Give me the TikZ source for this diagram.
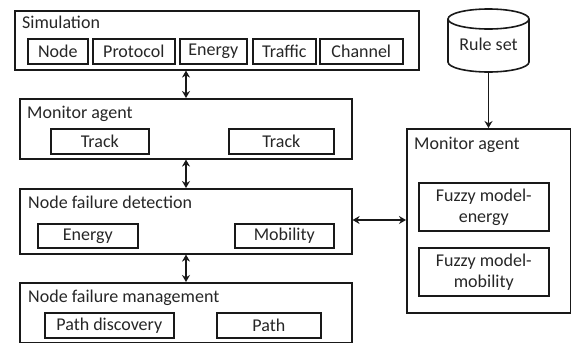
\documentclass[tikz,border=0pt]{standalone}
\usepackage{fontspec}
\setmainfont{Carlito}
\usetikzlibrary{arrows.meta}
\begin{document}
\begin{tikzpicture}[x=1pt,y=1pt,
  outer/.style={draw=black!90, line width=1.6pt, anchor=north west, inner sep=0pt},
  inner/.style={draw=black!90, line width=1.6pt, anchor=north west, inner sep=0pt, font=\fontsize{18}{21}\selectfont, text=black!85},
  title/.style={anchor=west, inner sep=0pt, font=\fontsize{18}{21}\selectfont, text=black!85},
  arr/.style={{Stealth[length=7pt,width=8pt]}-{Stealth[length=7pt,width=8pt]}, line width=1.7pt, draw=black!90},
  sarr/.style={-{Stealth[length=7pt,width=8pt]}, line width=1.7pt, draw=black!90}]
\useasboundingbox (0,0) rectangle (571,-343);
% Simulation
\node[outer, minimum width=404pt, minimum height=59pt] (sim) at (14,-10) {};
\node[title] (simt) at (22,-22) {Simulation};
\node[inner, minimum width=60pt, minimum height=25pt] (s1) at (27,-38) {Node};
\node[inner, minimum width=82pt, minimum height=25pt] (s2) at (92,-38) {Protocol};
\node[inner, minimum width=67pt, minimum height=25pt] (s3) at (179,-38) {Energy};
\node[inner, minimum width=63pt, minimum height=25pt] (s4) at (252,-38) {Traffic};
\node[inner, minimum width=83pt, minimum height=25pt] (s5) at (319,-38) {Channel};
% Monitor agent left
\node[outer, minimum width=332pt, minimum height=60pt] (mon) at (19,-98) {};
\node[title] (mont) at (27,-114) {Monitor agent};
\node[inner, minimum width=98pt, minimum height=25pt] (t1) at (50,-128) {Track};
\node[inner, minimum width=105pt, minimum height=25pt] (t2) at (228,-128) {Track};
% Node failure detection
\node[outer, minimum width=332pt, minimum height=65pt] (nfd) at (19,-188) {};
\node[title] (nfdt) at (28,-202) {Node failure detection};
\node[inner, minimum width=100pt, minimum height=24pt] (d1) at (37,-223) {Energy};
\node[inner, minimum width=99pt, minimum height=24pt] (d2) at (234,-223) {Mobility};
% Node failure management
\node[outer, minimum width=332pt, minimum height=60pt] (nfm) at (19,-282) {};
\node[title] (nfmt) at (28,-298) {Node failure management};
\node[inner, minimum width=129pt, minimum height=25pt] (m1) at (44,-312) {Path discovery};
\node[inner, minimum width=104pt, minimum height=25pt] (m2) at (216,-312) {Path};
% Right monitor agent
\node[outer, minimum width=164pt, minimum height=184pt] (rmon) at (406,-128) {};
\node[title] (rmont) at (414,-145) {Monitor agent};
\node[inner, minimum width=130pt, minimum height=48pt, align=center] (f1) at (418,-182) {Fuzzy model-\\energy};
\node[inner, minimum width=130pt, minimum height=48pt, align=center] (f2) at (418,-247) {Fuzzy model-\\mobility};
% Rule set cylinder
\draw[draw=black!90, line width=1.6pt] (448,-19) arc[start angle=180, end angle=540, x radius=40.5, y radius=10]
  -- (448,-19) -- (448,-62) arc[start angle=180, end angle=360, x radius=40.5, y radius=10] -- (529,-19);
\node[title, anchor=center] (rule) at (488.5,-44) {Rule set};
\coordinate (rulebot) at (488.5,-72);
% Arrows
\draw[arr] (sim.south -| 186,0) -- (mon.north -| 186,0);
\draw[arr] (mon.south -| 186,0) -- (nfd.north -| 186,0);
\draw[arr] (nfd.south -| 186,0) -- (nfm.north -| 186,0);
\draw[arr] (nfd.east |- 0,-220) -- (rmon.west |- 0,-220);
\draw[sarr] (rulebot) -- (rmon.north -| rulebot);
\end{tikzpicture}
\end{document}
